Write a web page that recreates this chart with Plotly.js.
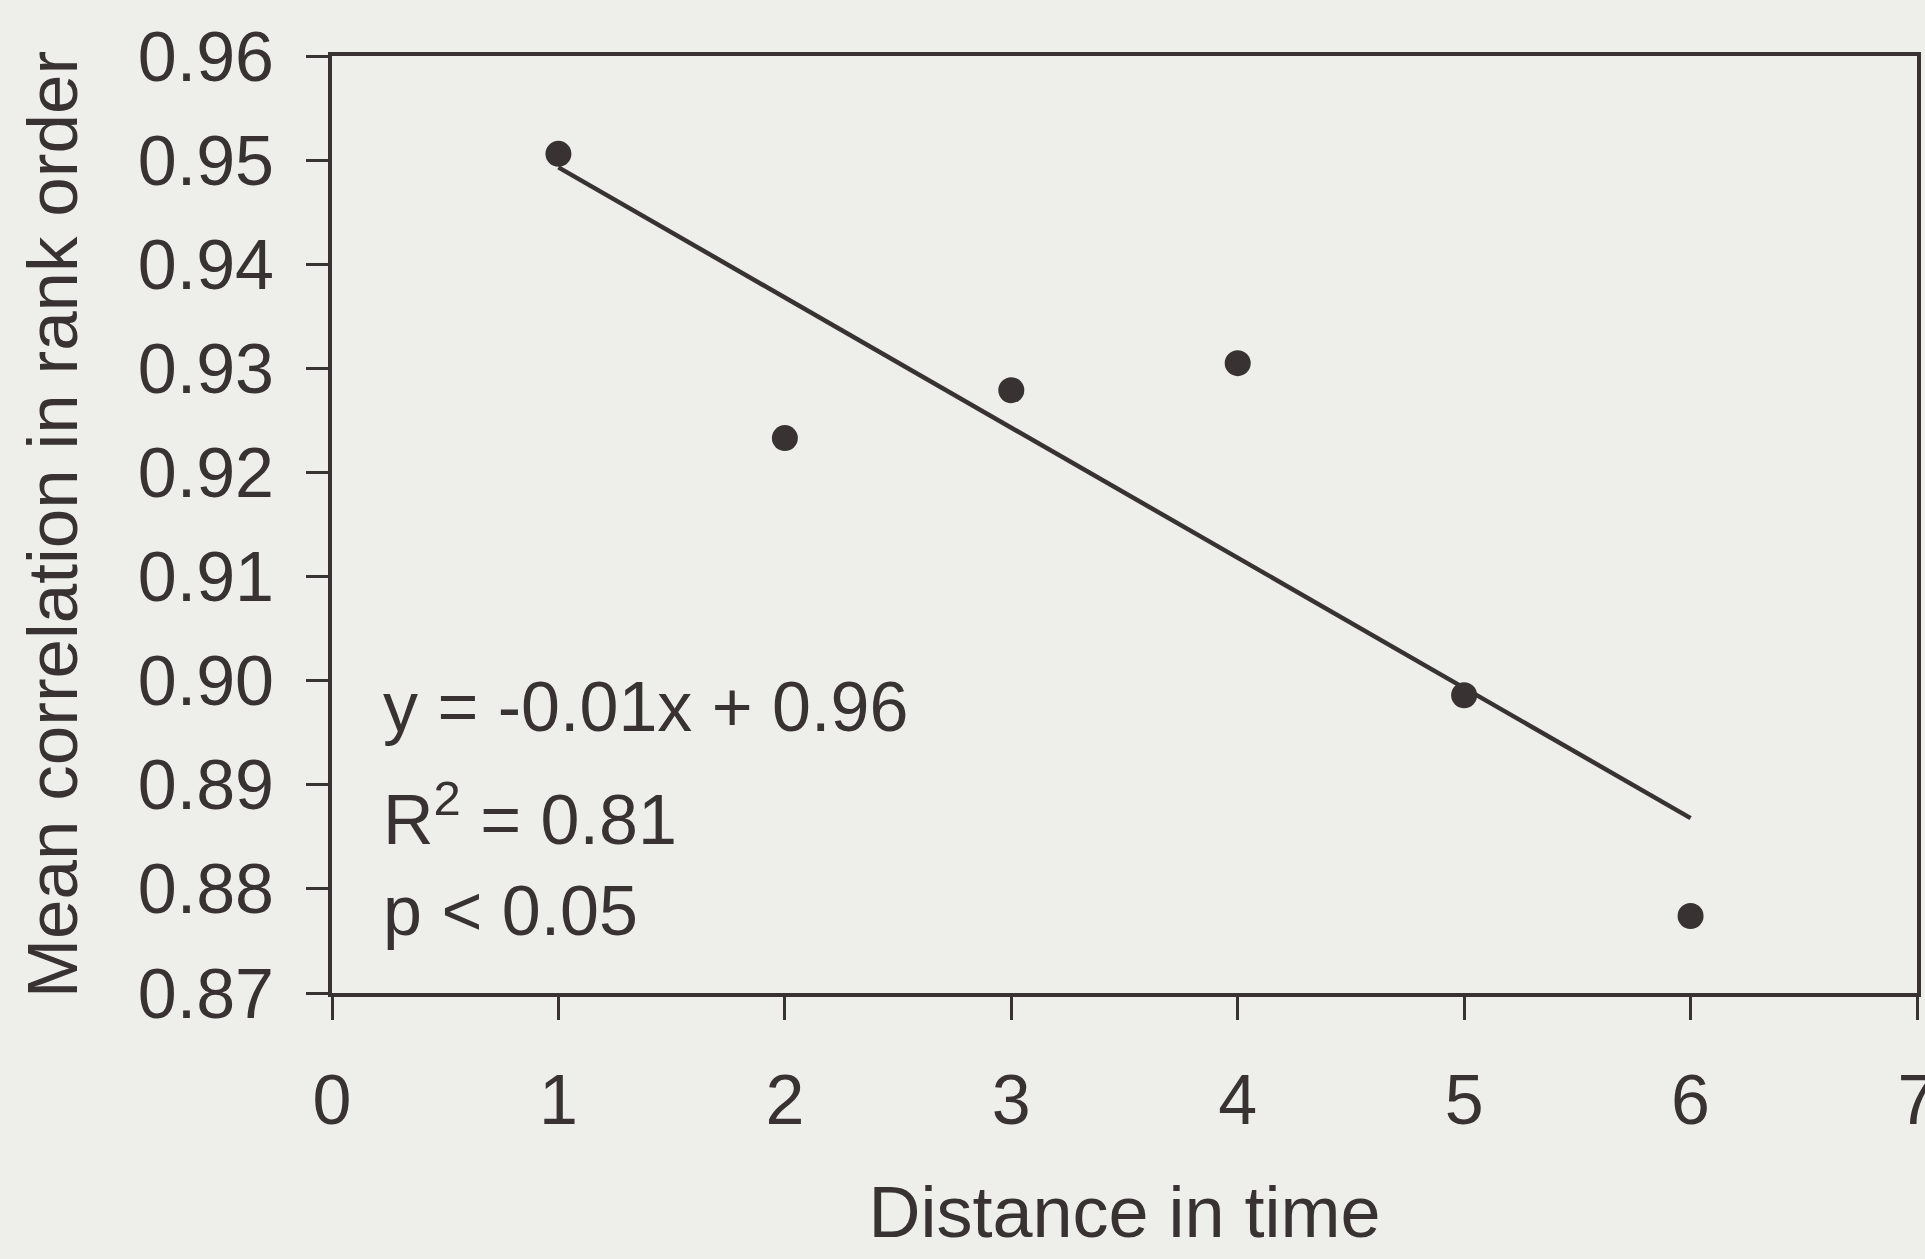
<!DOCTYPE html>
<html>
<head>
<meta charset="utf-8">
<script src="https://cdn.plot.ly/plotly-3.0.1.min.js"></script>
<style>
  html, body { margin: 0; padding: 0; background: #eeeeea; }
  #chart { width: 1925px; height: 1259px; }
</style>
</head>
<body>
<div id="chart"></div>
<script>
// ---- data ----
const distanceInTime = [1, 2, 3, 4, 5, 6];
const meanCorrelation = [0.9506, 0.9233, 0.9279, 0.9305, 0.8986, 0.8774];
const xTickVals = [0, 1, 2, 3, 4, 5, 6, 7];
const xTickText = ['0', '1', '2', '3', '4', '5', '6', '7'];
const yTickVals = [0.87, 0.88, 0.89, 0.90, 0.91, 0.92, 0.93, 0.94, 0.95, 0.96];
const yTickText = ['0.87', '0.88', '0.89', '0.90', '0.91', '0.92', '0.93', '0.94', '0.95', '0.96'];
const statLines = ['y = -0.01x + 0.96', 'R<sup>2</sup> = 0.81', 'p < 0.05'];

// least-squares fit of the points (the drawn trend line)
const n = distanceInTime.length;
const mx = distanceInTime.reduce((a, b) => a + b, 0) / n;
const my = meanCorrelation.reduce((a, b) => a + b, 0) / n;
let sxy = 0, sxx = 0;
for (let i = 0; i < n; i++) {
  sxy += (distanceInTime[i] - mx) * (meanCorrelation[i] - my);
  sxx += (distanceInTime[i] - mx) ** 2;
}
const slope = sxy / sxx;
const intercept = my - slope * mx;
const fitX = [distanceInTime[0], distanceInTime[n - 1]];
const fitY = fitX.map(x => intercept + slope * x);

const ink = '#383233';
const bg = '#eeeeea';
const font = 'Liberation Sans, Arial, sans-serif';

const traces = [
  {
    x: fitX, y: fitY, type: 'scatter', mode: 'lines',
    line: { color: ink, width: 4.5 }, hoverinfo: 'skip', showlegend: false
  },
  {
    x: distanceInTime, y: meanCorrelation, type: 'scatter', mode: 'markers',
    marker: { color: ink, size: 26 }, showlegend: false
  }
];

const statY = [0.305, 0.19, 0.087];
const annotations = statLines.map((t, i) => ({
  text: t, xref: 'paper', yref: 'paper', x: 0.031, y: statY[i],
  xanchor: 'left', yanchor: 'middle', showarrow: false,
  font: { family: font, size: 70, color: ink }
}));

const layout = {
  width: 1925, height: 1259,
  paper_bgcolor: bg, plot_bgcolor: bg,
  margin: { l: 332, r: 8, t: 56, b: 266, pad: 0 },
  font: { family: font, color: ink },
  showlegend: false,
  xaxis: {
    range: [0, 7], tickmode: 'array', tickvals: xTickVals, ticktext: xTickText,
    ticks: 'outside', ticklen: 23, tickwidth: 3, tickcolor: ink,
    showline: true, linewidth: 4, linecolor: ink, mirror: true,
    showgrid: false, zeroline: false,
    tickfont: { family: font, size: 70, color: ink },
    ticklabelstandoff: 20,
    ticklabeloverflow: 'allow',
    title: { text: 'Distance in time', font: { family: font, size: 72, color: ink }, standoff: 50 }
  },
  yaxis: {
    range: [0.87, 0.96], tickmode: 'array', tickvals: yTickVals, ticktext: yTickText,
    ticks: 'outside', ticklen: 22, tickwidth: 3, tickcolor: ink,
    showline: true, linewidth: 4, linecolor: ink, mirror: true,
    showgrid: false, zeroline: false,
    tickfont: { family: font, size: 70, color: ink },
    ticklabelstandoff: 18,
    title: { text: 'Mean correlation in rank order', font: { family: font, size: 71, color: ink }, standoff: 38 }
  },
  annotations: annotations
};

Plotly.newPlot('chart', traces, layout, { staticPlot: true, displayModeBar: false });
</script>
</body>
</html>
